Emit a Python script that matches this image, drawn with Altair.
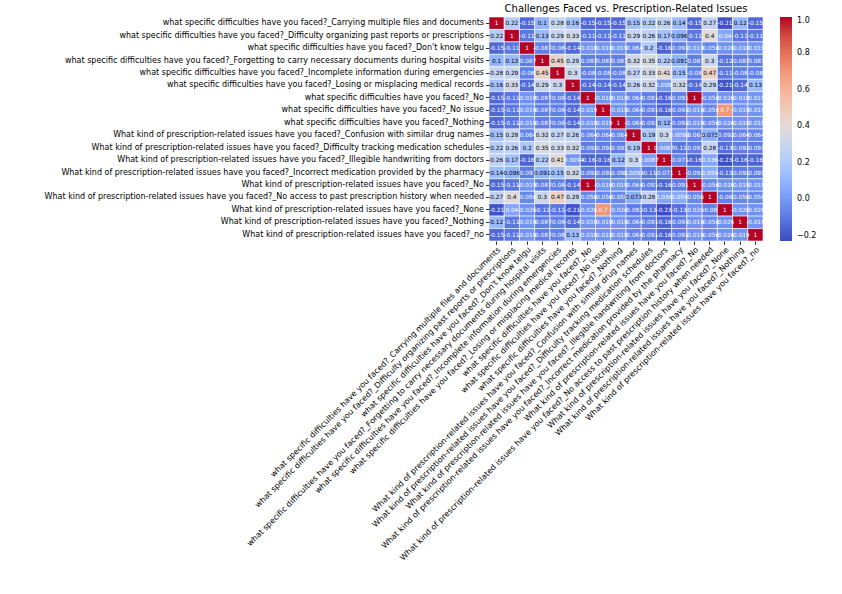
import altair as alt
import pandas as pd

Q1 = "what specific difficulties have you faced?_"
Q2 = "What kind of prescription-related issues have you faced?_"

labels = [
    Q1 + "Carrying multiple files and documents",
    Q1 + "Difficulty organizing past reports or prescriptions",
    Q1 + "Don't know telgu ",
    Q1 + "Forgetting to carry necessary documents during hospital visits",
    Q1 + "Incomplete information during emergencies",
    Q1 + "Losing or misplacing medical records",
    Q1 + "No",
    Q1 + "No issue",
    Q1 + "Nothing ",
    Q2 + "Confusion with similar drug names",
    Q2 + "Difficulty tracking medication schedules",
    Q2 + "Illegible handwriting from doctors",
    Q2 + "Incorrect medication provided by the pharmacy",
    Q2 + "No",
    Q2 + "No access to past prescription history when needed",
    Q2 + "None",
    Q2 + "Nothing ",
    Q2 + "no",
]

r_carrying = [1, 0.22, -0.15, 0.1, 0.28, 0.16, -0.15, -0.15, -0.15, 0.15, 0.22, 0.26, 0.14, -0.15, 0.27, -0.21, 0.12, -0.15]
r_organizing = [0.22, 1, -0.11, 0.13, 0.29, 0.33, -0.11, -0.11, -0.11, 0.29, 0.26, 0.17, 0.096, -0.11, 0.4, 0.04, -0.11, -0.11]
r_telgu = [-0.15, -0.11, 1, -0.087, -0.08, -0.14, -0.019, -0.019, -0.019, -0.064, 0.2, -0.16, -0.091, -0.019, -0.056, -0.026, -0.019, -0.019]
r_forgetting = [0.1, 0.13, -0.087, 1, 0.45, 0.29, -0.087, -0.087, -0.087, 0.32, 0.35, 0.22, 0.091, -0.087, 0.3, -0.12, -0.087, -0.087]
r_incomplete = [0.28, 0.29, -0.08, 0.45, 1, 0.3, -0.08, -0.08, -0.08, 0.27, 0.33, 0.41, 0.15, -0.08, 0.47, -0.11, -0.08, -0.08]
r_losing = [0.16, 0.33, -0.14, 0.29, 0.3, 1, -0.14, -0.14, -0.14, 0.26, 0.32, -0.0094, 0.32, -0.14, 0.29, -0.21, -0.14, 0.13]
r_no1 = [-0.15, -0.11, -0.019, -0.087, -0.08, -0.14, 1, -0.019, -0.019, -0.064, -0.091, -0.16, -0.091, 1, -0.056, -0.026, -0.019, -0.019]
r_noissue = [-0.15, -0.11, -0.019, -0.087, -0.08, -0.14, -0.019, 1, -0.019, -0.064, -0.091, -0.16, -0.091, -0.019, -0.056, 0.7, -0.019, -0.019]
r_nothing1 = [-0.15, -0.11, -0.019, -0.087, -0.08, -0.14, -0.019, -0.019, 1, -0.064, -0.091, 0.12, -0.091, -0.019, -0.056, -0.026, -0.019, -0.019]
r_confusion = [0.15, 0.29, -0.064, 0.32, 0.27, 0.26, -0.064, -0.064, -0.064, 1, 0.19, 0.3, 0.0093, -0.064, 0.073, -0.092, -0.064, -0.064]
r_tracking = [0.22, 0.26, 0.2, 0.35, 0.33, 0.32, -0.091, -0.091, -0.091, 0.19, 1, 0.0087, -0.11, -0.091, 0.28, -0.13, -0.091, -0.091]
r_illegible = [0.26, 0.17, -0.16, 0.22, 0.41, -0.0094, -0.16, -0.16, 0.12, 0.3, 0.0087, 1, -0.071, -0.16, 0.036, -0.23, -0.16, -0.16]
r_incorrect = [0.14, 0.096, -0.091, 0.091, 0.15, 0.32, -0.091, -0.091, -0.091, 0.0093, -0.11, -0.071, 1, -0.091, 0.059, -0.13, -0.091, -0.091]
r_no2 = [-0.15, -0.11, -0.019, -0.087, -0.08, -0.14, 1, -0.019, -0.019, -0.064, -0.091, -0.16, -0.091, 1, -0.056, -0.026, -0.019, -0.019]
r_noaccess = [0.27, 0.4, -0.056, 0.3, 0.47, 0.29, -0.056, -0.056, -0.056, 0.073, 0.28, 0.036, 0.059, -0.056, 1, -0.08, -0.056, -0.056]
r_none = [-0.21, 0.04, -0.026, -0.12, -0.11, -0.21, -0.026, 0.7, -0.026, -0.092, -0.13, -0.23, -0.13, -0.026, -0.08, 1, -0.026, -0.026]
r_nothing2 = [0.12, -0.11, -0.019, -0.087, -0.08, -0.14, -0.019, -0.019, -0.019, -0.064, -0.091, -0.16, -0.091, -0.019, -0.056, -0.026, 1, -0.019]
r_no3 = [-0.15, -0.11, -0.019, -0.087, -0.08, 0.13, -0.019, -0.019, -0.019, -0.064, -0.091, -0.16, -0.091, -0.019, -0.056, -0.026, -0.019, 1]

matrix = [r_carrying, r_organizing, r_telgu, r_forgetting, r_incomplete, r_losing,
          r_no1, r_noissue, r_nothing1, r_confusion, r_tracking, r_illegible,
          r_incorrect, r_no2, r_noaccess, r_none, r_nothing2, r_no3]

colorbar_ticks = [-0.2, 0.0, 0.2, 0.4, 0.6, 0.8, 1.0]

records = []
for i, rl in enumerate(labels):
    for j, cl in enumerate(labels):
        records.append({"row": rl, "col": cl, "v": matrix[i][j]})
df = pd.DataFrame(records)

vmin, vmax = -0.23, 1.0
coolwarm = ["#3b4cc0", "#6282ea", "#8db0fe", "#b8d0f9", "#dddddd",
            "#f5c4ad", "#f49a7b", "#de604d", "#b40426"]
dom = [vmin + k * (vmax - vmin) / 8 for k in range(9)]

FONT = "DejaVu Sans"

base = alt.Chart(df).encode(
    x=alt.X("col:N", sort=labels, title=None,
            axis=alt.Axis(labelAngle=-45, labelAlign="right", labelBaseline="top",
                          labelFontSize=8, labelFont=FONT, labelColor="#000000",
                          labelLimit=500, tickColor="#000000", tickSize=3.5,
                          tickWidth=0.8, domain=False, labelPadding=1)),
    y=alt.Y("row:N", sort=labels, title=None,
            axis=alt.Axis(labelFontSize=8, labelFont=FONT, labelColor="#000000",
                          labelLimit=500, tickColor="#000000", tickSize=3.5,
                          tickWidth=0.8, domain=False, labelPadding=2)),
)

rects = base.mark_rect(stroke="white", strokeWidth=0.6).encode(
    color=alt.Color("v:Q",
                    scale=alt.Scale(domain=dom, range=coolwarm, type="linear"),
                    legend=alt.Legend(orient="none", legendX=291, legendY=0,
                                      direction="vertical", gradientLength=224,
                                      gradientThickness=12, title=None,
                                      values=colorbar_ticks, format=".1f",
                                      labelFontSize=8, labelFont=FONT,
                                      labelColor="#000000", labelOffset=5,
                                      gradientStrokeWidth=0))
)

texts = base.mark_text(fontSize=5.8, font=FONT).transform_calculate(
    lbl="replace(format(datum.v, '.2~g'), '\u2212', '-')"
).encode(
    text="lbl:N",
    color=alt.condition("datum.v < 0.06 || datum.v > 0.65",
                        alt.value("white"), alt.value("black")),
)

chart = alt.layer(rects, texts).properties(
    width=274, height=224,
    title=alt.TitleParams("Challenges Faced vs. Prescription-Related Issues",
                          font=FONT, fontSize=10, fontWeight="normal",
                          color="#000000", anchor="middle", offset=3),
    autosize=alt.AutoSizeParams(type="none"),
    padding={"left": 489, "top": 17, "right": 79, "bottom": 353},
).configure_view(stroke=None)

chart.save("out.html", embed_options={"renderer": "svg", "actions": False})
